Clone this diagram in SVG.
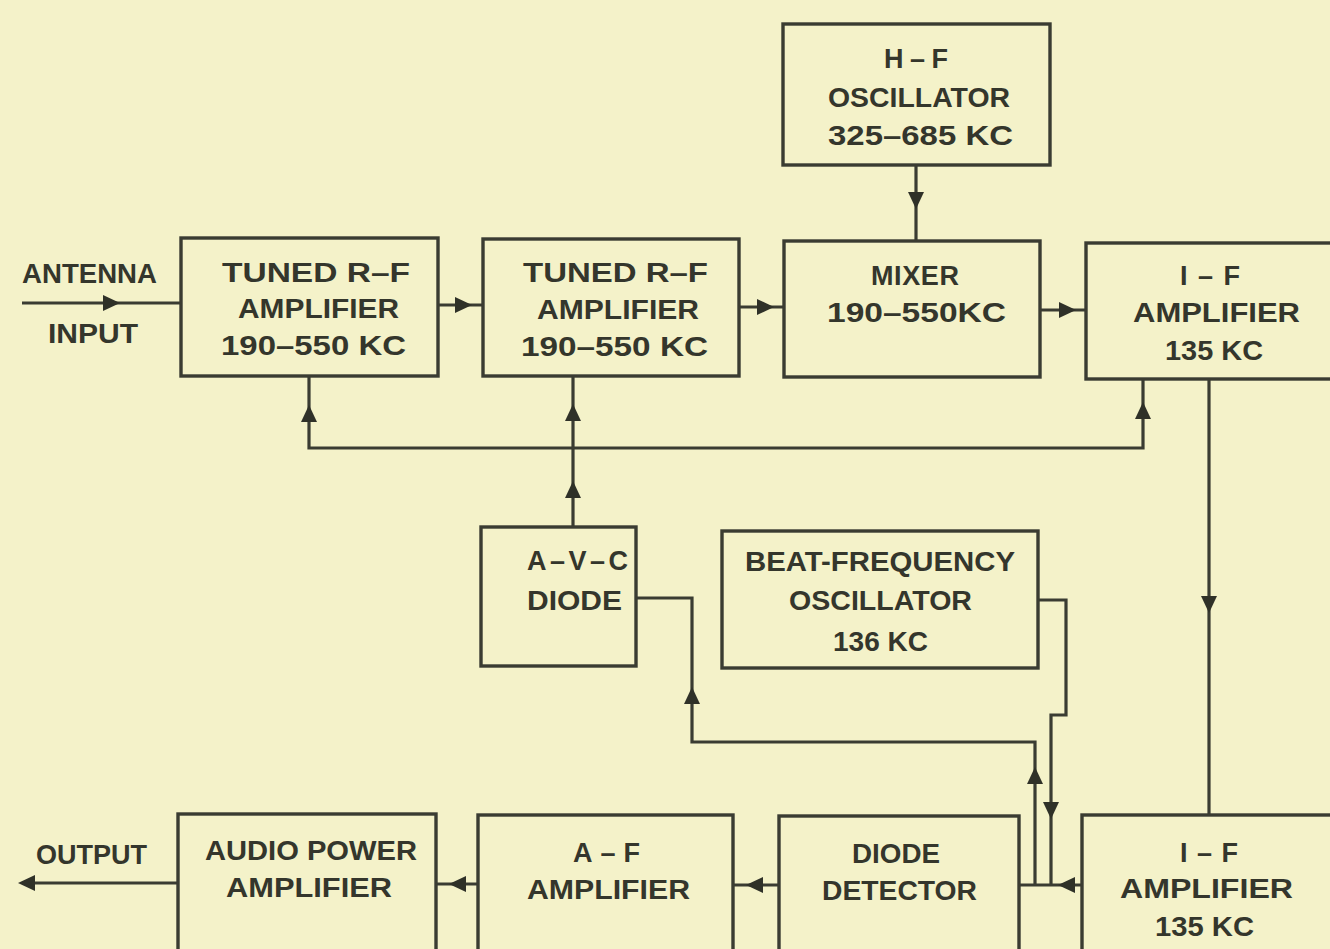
<svg xmlns="http://www.w3.org/2000/svg" xmlns:xlink="http://www.w3.org/1999/xlink" width="1330" height="949" viewBox="0 0 1330 949">
<style>
.box{fill:none;stroke:#3a3c32;stroke-width:3.4}
.ln{fill:none;stroke:#3a3c32;stroke-width:3.2}
.t{font-family:"Liberation Sans",Arial,sans-serif;font-weight:bold;font-size:27px;fill:#34362c;text-anchor:start}
.ah{fill:#2f3128}
</style>
<defs>
<path id="ah" d="M0,0 L-17,-8 L-17,8 Z"/>
</defs>
<rect x="0" y="0" width="1330" height="949" fill="#f4f2c9"/>

<g id="connectors">
<path class="ln" d="M22,303 H181"/>
<path class="ln" d="M438,305 H483"/>
<path class="ln" d="M739,307 H784"/>
<path class="ln" d="M1040,310 H1086"/>
<path class="ln" d="M916,165 V241"/>
<path class="ln" d="M309,376 V448 H1143 V379"/>
<path class="ln" d="M573,376 V527"/>
<path class="ln" d="M1209,379 V815"/>
<path class="ln" d="M636,598 H692 V742 H1035 V885"/>
<path class="ln" d="M1038,600 H1066 V715 H1051 V885"/>
<path class="ln" d="M1082,885 H1019"/>
<path class="ln" d="M779,885 H733"/>
<path class="ln" d="M478,884 H436"/>
<path class="ln" d="M178,883 H24"/>
<use xlink:href="#ah" class="ah" transform="translate(120,303)"/>
<use xlink:href="#ah" class="ah" transform="translate(472,305)"/>
<use xlink:href="#ah" class="ah" transform="translate(774,307)"/>
<use xlink:href="#ah" class="ah" transform="translate(1076,310)"/>
<use xlink:href="#ah" class="ah" transform="translate(916,209) rotate(90)"/>
<use xlink:href="#ah" class="ah" transform="translate(309,405) rotate(-90)"/>
<use xlink:href="#ah" class="ah" transform="translate(573,404) rotate(-90)"/>
<use xlink:href="#ah" class="ah" transform="translate(573,481) rotate(-90)"/>
<use xlink:href="#ah" class="ah" transform="translate(1143,402) rotate(-90)"/>
<use xlink:href="#ah" class="ah" transform="translate(1209,613) rotate(90)"/>
<use xlink:href="#ah" class="ah" transform="translate(692,687) rotate(-90)"/>
<use xlink:href="#ah" class="ah" transform="translate(1035,767) rotate(-90)"/>
<use xlink:href="#ah" class="ah" transform="translate(1051,819) rotate(90)"/>
<use xlink:href="#ah" class="ah" transform="translate(1058,885) rotate(180)"/>
<use xlink:href="#ah" class="ah" transform="translate(746,885) rotate(180)"/>
<use xlink:href="#ah" class="ah" transform="translate(449,884) rotate(180)"/>
<use xlink:href="#ah" class="ah" transform="translate(18,883) rotate(180)"/>
</g>

<g id="antenna-label">
<text class="t" x="22" y="283" textLength="135" lengthAdjust="spacingAndGlyphs">ANTENNA</text>
<text class="t" x="48" y="343" textLength="90" lengthAdjust="spacingAndGlyphs">INPUT</text>
</g>

<g id="hf-oscillator">
<rect class="box" x="783" y="24" width="267" height="141"/>
<text class="t" x="884" y="68" textLength="64" lengthAdjust="spacing">H–F</text>
<text class="t" x="828" y="107" textLength="182" lengthAdjust="spacingAndGlyphs">OSCILLATOR</text>
<text class="t" x="828" y="145" textLength="185" lengthAdjust="spacingAndGlyphs">325–685 KC</text>
</g>

<g id="rf-amp-1">
<rect class="box" x="181" y="238" width="257" height="138"/>
<text class="t" x="222" y="282" textLength="188" lengthAdjust="spacingAndGlyphs">TUNED  R–F</text>
<text class="t" x="238" y="318" textLength="161" lengthAdjust="spacingAndGlyphs">AMPLIFIER</text>
<text class="t" x="221" y="355" textLength="185" lengthAdjust="spacingAndGlyphs">190–550 KC</text>
</g>

<g id="rf-amp-2">
<rect class="box" x="483" y="239" width="256" height="137"/>
<text class="t" x="523" y="282" textLength="185" lengthAdjust="spacingAndGlyphs">TUNED  R–F</text>
<text class="t" x="537" y="319" textLength="162" lengthAdjust="spacingAndGlyphs">AMPLIFIER</text>
<text class="t" x="521" y="356" textLength="187" lengthAdjust="spacingAndGlyphs">190–550 KC</text>
</g>

<g id="mixer">
<rect class="box" x="784" y="241" width="256" height="136"/>
<text class="t" x="871" y="285" textLength="88" lengthAdjust="spacing">MIXER</text>
<text class="t" x="827" y="322" textLength="179" lengthAdjust="spacingAndGlyphs">190–550KC</text>
</g>

<g id="if-amp-1">
<rect class="box" x="1086" y="243" width="260" height="136"/>
<text class="t" x="1180" y="285" textLength="60" lengthAdjust="spacing">I–F</text>
<text class="t" x="1133" y="322" textLength="167" lengthAdjust="spacingAndGlyphs">AMPLIFIER</text>
<text class="t" x="1165" y="360" textLength="98" lengthAdjust="spacingAndGlyphs">135 KC</text>
</g>

<g id="avc-diode">
<rect class="box" x="481" y="527" width="155" height="139"/>
<text class="t" x="527" y="570" textLength="101" lengthAdjust="spacing">A–V–C</text>
<text class="t" x="527" y="610" textLength="95" lengthAdjust="spacingAndGlyphs">DIODE</text>
</g>

<g id="bfo">
<rect class="box" x="722" y="531" width="316" height="137"/>
<text class="t" x="745" y="571" textLength="270" lengthAdjust="spacingAndGlyphs">BEAT-FREQUENCY</text>
<text class="t" x="789" y="610" textLength="183" lengthAdjust="spacingAndGlyphs">OSCILLATOR</text>
<text class="t" x="833" y="651" textLength="95" lengthAdjust="spacingAndGlyphs">136 KC</text>
</g>

<g id="output-label">
<text class="t" x="36" y="864" textLength="111" lengthAdjust="spacingAndGlyphs">OUTPUT</text>
</g>

<g id="audio-power-amp">
<rect class="box" x="178" y="814" width="258" height="150"/>
<text class="t" x="205" y="860" textLength="212" lengthAdjust="spacingAndGlyphs">AUDIO  POWER</text>
<text class="t" x="226" y="897" textLength="166" lengthAdjust="spacingAndGlyphs">AMPLIFIER</text>
</g>

<g id="af-amp">
<rect class="box" x="478" y="815" width="255" height="150"/>
<text class="t" x="573" y="862" textLength="67" lengthAdjust="spacing">A–F</text>
<text class="t" x="527" y="899" textLength="163" lengthAdjust="spacingAndGlyphs">AMPLIFIER</text>
</g>

<g id="diode-detector">
<rect class="box" x="779" y="816" width="240" height="150"/>
<text class="t" x="852" y="863" textLength="88" lengthAdjust="spacingAndGlyphs">DIODE</text>
<text class="t" x="822" y="900" textLength="155" lengthAdjust="spacingAndGlyphs">DETECTOR</text>
</g>

<g id="if-amp-2">
<rect class="box" x="1082" y="815" width="264" height="150"/>
<text class="t" x="1180" y="862" textLength="58" lengthAdjust="spacing">I–F</text>
<text class="t" x="1120" y="898" textLength="173" lengthAdjust="spacingAndGlyphs">AMPLIFIER</text>
<text class="t" x="1155" y="936" textLength="99" lengthAdjust="spacingAndGlyphs">135 KC</text>
</g>
</svg>
